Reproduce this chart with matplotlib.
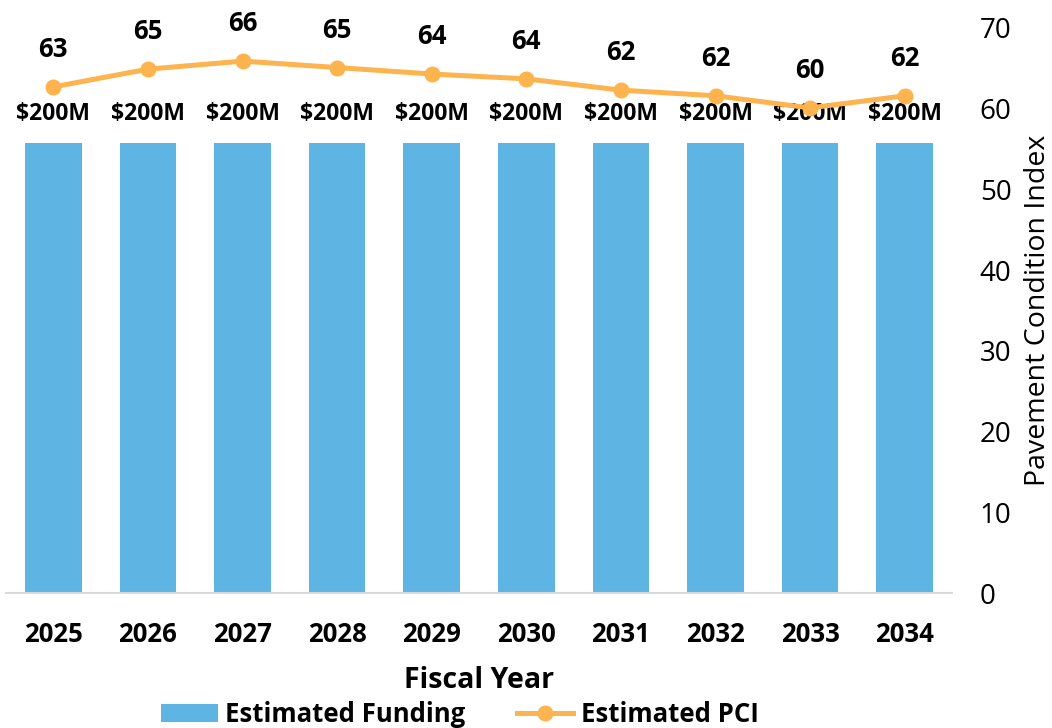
import matplotlib.pyplot as plt

years = ['2025', '2026', '2027', '2028', '2029', '2030', '2031', '2032', '2033', '2034']
funding = [200, 200, 200, 200, 200, 200, 200, 200, 200, 200]
pci = [62.7, 64.9, 65.9, 65.1, 64.3, 63.7, 62.3, 61.6, 60.1, 61.6]
pci_labels = ['63', '65', '66', '65', '64', '64', '62', '62', '60', '62']

bar_color = '#5EB5E3'
line_color = '#FDB44E'

plt.rcParams['font.family'] = ['Open Sans', 'DejaVu Sans']

fig = plt.figure(figsize=(10.52, 7.28), dpi=100)
ax = fig.add_axes([6 / 1052, 135 / 728, 946 / 1052, 565 / 728])
x = list(range(len(years)))

bars = ax.bar(x, funding, width=0.6, color=bar_color, label='Estimated Funding', zorder=2)
ax.set_ylim(0, 251)
ax.set_xlim(-0.5, len(years) - 0.5)
ax.set_yticks([])
for s in ['left', 'right', 'top']:
    ax.spines[s].set_visible(False)
ax.spines['bottom'].set_color('#d9d9d9')
ax.spines['bottom'].set_linewidth(1.5)
ax.set_xticks(x)
ax.set_xticklabels(years, fontsize=18.5, fontweight='bold')
ax.tick_params(axis='x', length=0, pad=20)
ax.set_xlabel('Fiscal Year', fontsize=20.5, fontweight='bold', labelpad=13)

for xi, v in zip(x, funding):
    ax.annotate('$' + str(v) + 'M', (xi, v), xytext=(0, 21), textcoords='offset points',
                ha='center', va='center', fontsize=16.5, fontweight='bold', zorder=3)

ax2 = ax.twinx()
ax2.plot(x, pci, color=line_color, lw=3.6, marker='o', markersize=10.5,
         label='Estimated PCI', zorder=4)
ax2.set_ylim(0, 70)
ax2.set_yticks(range(0, 71, 10))
ax2.tick_params(axis='y', length=0, pad=20, labelsize=20)
for s in ['left', 'right', 'top', 'bottom']:
    ax2.spines[s].set_visible(False)
ax2.set_ylabel('Pavement Condition Index', fontsize=20.5, labelpad=9)

for xi, v, lab in zip(x, pci, pci_labels):
    ax2.annotate(lab, (xi, v), xytext=(0, 27), textcoords='offset points',
                 ha='center', va='center', fontsize=18.5, fontweight='bold')

h1, l1 = ax.get_legend_handles_labels()
h2, l2 = ax2.get_legend_handles_labels()
fig.legend(h1 + h2, l1 + l2, loc='center', bbox_to_anchor=(460 / 1052, 1 - 714 / 728),
           ncol=2, frameon=False, prop={'weight': 'bold', 'size': 18.5},
           handlelength=2.2, columnspacing=2.0, handletextpad=0.3)

fig.savefig('out.png', dpi=100)
